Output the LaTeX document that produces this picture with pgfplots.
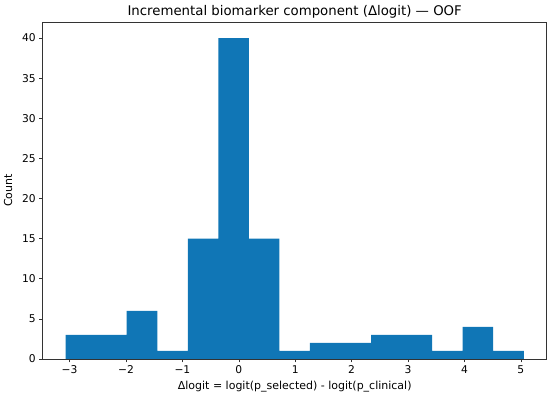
\documentclass[border=0pt]{standalone}
\usepackage{pgfplots}
\pgfplotsset{compat=1.18}
\usepackage{fontspec}
\setmainfont{DejaVu Sans}
\definecolor{barblue}{RGB}{16,118,182}
\begin{document}
\begin{tikzpicture}
\useasboundingbox (-42.7pt,-39pt) rectangle (507.3pt,359pt);
\begin{axis}[
  scale only axis,
  at={(0,0)}, anchor=south west,
  width=504pt, height=337pt,
  xmin=-3.477, xmax=5.459,
  ymin=0, ymax=42,
  xtick={-3,-2,-1,0,1,2,3,4,5},
  xticklabels={−3,−2,−1,0,1,2,3,4,5},
  ytick={0,5,10,15,20,25,30,35,40},
  tick align=outside,
  major tick length=3.5pt,
  tick style={black!80, line width=0.6pt},
  xtick pos=bottom, ytick pos=left,
  axis line style={black!80, line width=0.7pt},
  /pgf/number format/assume math mode=true,
  tick label style={font=\fontsize{10.7}{12}\selectfont},
  label style={font=\fontsize{11}{13}\selectfont},
  every axis title/.style={at={(0.5,1)}, anchor=base, yshift=6.7pt, font=\fontsize{13.3}{15}\selectfont},
  title={Incremental biomarker component (Δlogit) — OOF},
  xlabel={Δlogit = logit(p\_selected) - logit(p\_clinical)},
  ylabel={Count},
  xlabel style={yshift=0pt},
  ylabel style={yshift=3pt},
]
\addplot[ybar interval, fill=barblue, draw=none] coordinates {
(-3.071,3) (-2.529,3) (-1.988,6) (-1.446,1) (-0.905,15) (-0.363,40)
(0.178,15) (0.720,1) (1.262,2) (1.803,2) (2.345,3) (2.886,3)
(3.428,1) (3.970,4) (4.511,1) (5.053,1)
};
\end{axis}
\end{tikzpicture}
\end{document}
